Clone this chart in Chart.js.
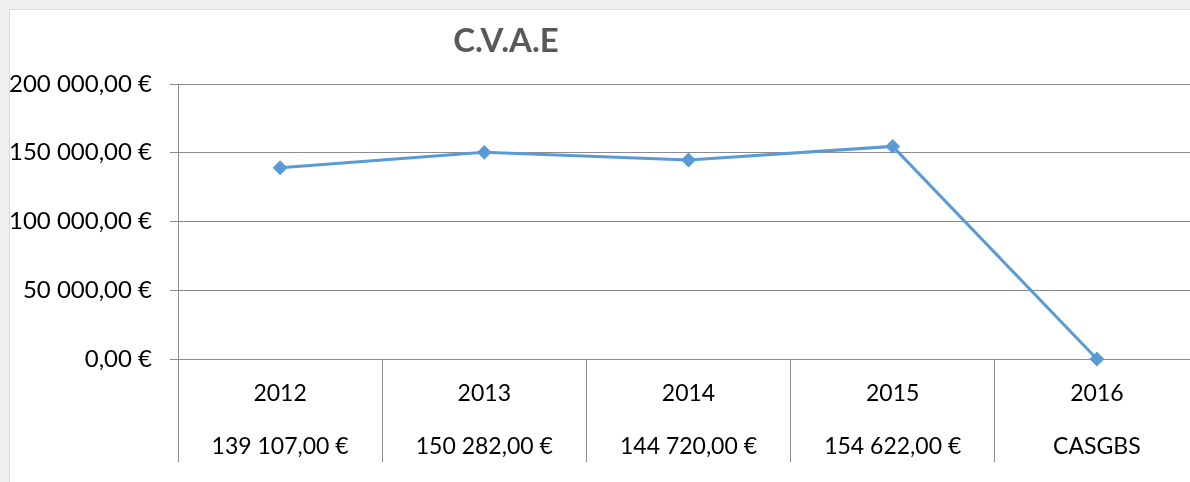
<!DOCTYPE html>
<html>
<head>
<meta charset="utf-8">
<script src="https://cdn.jsdelivr.net/npm/chart.js@4.4.1/dist/chart.umd.min.js"></script>
<style>
    html, body { margin: 0; padding: 0; width: 1190px; height: 482px; overflow: hidden; background: #f0f0f0; }
    #cadre { position: absolute; left: 9px; top: 9px; width: 1200px; height: 490px; background: #fff; border: 1px solid #d9d9d9; }
    #zone { position: absolute; left: 0; top: 0; width: 1207px; height: 482px; }
</style>
</head>
<body>
<div id="cadre"></div>
<div id="zone"><canvas id="grafico" width="1207" height="482"></canvas></div>
<script>
// --- DONNEES ---
const annees = ["2012", "2013", "2014", "2015", "2016"];
const montants = [139107, 150282, 144720, 154622, 0];
const libellesTableau = ["139 107,00 €", "150 282,00 €", "144 720,00 €", "154 622,00 €", "CASGBS"];
const graduations = [0, 50000, 100000, 150000, 200000];

const gris = "#8c8c8c";
const bleu = "#5b9bd5";

function euros(v) {
    const entier = Math.round(v).toString().replace(/\B(?=(\d{3})+(?!\d))/g, " ");
    return entier + ",00 €";
}

// titre place comme dans Excel (pas centre sur le graphique)
const titrePlugin = {
    id: "titreCVAE",
    afterDraw(chart) {
        const ctx = chart.ctx;
        ctx.save();
        ctx.font = "bold 33px Lato";
        ctx.fillStyle = "#595959";
        ctx.textAlign = "center";
        ctx.textBaseline = "middle";
        ctx.fillText("C.V.A.E", 506, 41);
        ctx.restore();
    }
};

const ctx = document.getElementById("grafico");
new Chart(ctx, {
    type: "line",
    data: {
        labels: annees.map((a, i) => [a, libellesTableau[i]]),
        datasets: [{
            label: "C.V.A.E",
            data: montants,
            borderColor: bleu,
            backgroundColor: bleu,
            borderWidth: 3,
            pointStyle: "rectRot",
            pointRadius: 6,
            pointBorderWidth: 2,
            tension: 0,
            clip: 10
        }]
    },
    plugins: [titrePlugin],
    options: {
        responsive: false,
        animation: false,
        layout: { padding: { top: 84, left: 0, right: 0, bottom: 0 } },
        plugins: {
            legend: { display: false },
            title: { display: false },
            tooltip: { enabled: false }
        },
        scales: {
            x: {
                offset: true,
                grid: {
                    offset: true,
                    drawOnChartArea: false,
                    tickLength: 103,
                    tickColor: gris,
                    color: gris
                },
                border: { display: true, color: gris, width: 1 },
                ticks: {
                    color: "#000",
                    font: { family: "Lato", size: 23, lineHeight: 2.3 },
                    padding: -95,
                    maxRotation: 0,
                    autoSkip: false
                },
                afterFit: (scale) => { scale.height = 123; }
            },
            y: {
                min: 0,
                max: 200000,
                afterBuildTicks: (scale) => { scale.ticks = graduations.map(v => ({ value: v })); },
                grid: { color: gris, tickLength: 8, tickColor: gris },
                border: { display: true, color: gris, width: 1 },
                ticks: {
                    color: "#000",
                    font: { family: "Lato", size: 24 },
                    padding: 18,
                    callback: (v) => euros(v)
                },
                afterFit: (scale) => { scale.width = 178; }
            }
        }
    }
});
</script>
</body>
</html>
